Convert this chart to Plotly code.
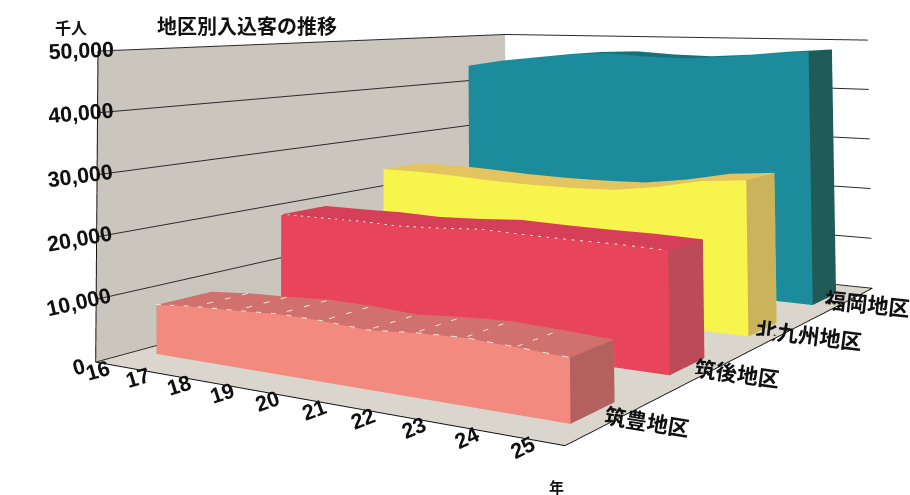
import numpy as np
import plotly.graph_objects as go

years = [16, 17, 18, 19, 20, 21, 22, 23, 24, 25]
regions = ["筑豊地区", "筑後地区", "北九州地区", "福岡地区"]
chikuho = [8000, 8600, 8900, 9300, 9200, 8800, 9400, 9700, 9400, 9000]
chikugo = [19000, 19000, 19100, 18900, 19200, 19700, 19500, 19400, 19400, 19200]
kitakyushu = [24200, 24200, 23900, 23500, 23300, 23300, 23500, 24600, 26200, 26900]
fukuoka = [43700, 45000, 45900, 46800, 47100, 46600, 46400, 46900, 47700, 48300]
series = [chikuho, chikugo, kitakyushu, fukuoka]
z_ticks = [0, 10000, 20000, 30000, 40000, 50000]

WIN_W, WIN_H = 910, 495
XR, YR, ZR = [15.5, 25.5], [-0.5, 3.5], [0, 50000]

# camera of the reference (3-D view with a narrow field of view whose
# optical centre is off the page centre)
EYE = dict(x=1.651, y=-3.13, z=0.406)
CENTER = dict(x=-0.3443, y=-0.2796, z=0.5917)
ASPECT = dict(x=1.0, y=1.651, z=0.5982)
FOCAL, PX, PY = 1596.0, 324.3, -89.23
HALF = 0.2078  # half depth of each ribbon

SH = int(round(2 * FOCAL * np.tan(np.pi / 8)))
SW = int(2 * np.ceil(max(PX, WIN_W - PX))) + 2
OFF_X = SW / 2 - PX
OFF_Y = SH / 2 - PY

palette = [
    ("#f38a7f", "#d0716e", "#b4605f"),
    ("#e8455d", "#d63f58", "#bd4a57"),
    ("#f7f44e", "#e3c45e", "#cbb35c"),
    ("#1c8b9b", "#17717a", "#1f5b57"),
]
edge_col = "#f7e3d8"

fig = go.Figure()
for si, vals in enumerate(series):
    y0, y1 = si - HALF, si + HALF
    xs, ys, zs = [], [], []
    for x, v in zip(years, vals):
        xs += [x, x, x, x]
        ys += [y0, y0, y1, y1]
        zs += [0, v, v, 0]
    I, J, K, C = [], [], [], []
    fc, tc, sc = palette[si]
    n = len(years)
    for j in range(n - 1):
        a, b = 4 * j, 4 * (j + 1)
        I += [a, a]; J += [b, b + 1]; K += [b + 1, a + 1]; C += [fc, fc]
        I += [a + 1, a + 1]; J += [b + 1, b + 2]; K += [b + 2, a + 2]; C += [tc, tc]
        I += [a + 3, a + 3]; J += [b + 3, b + 2]; K += [b + 2, a + 2]; C += [fc, fc]
    for a in (0, 4 * (n - 1)):
        I += [a, a]; J += [a + 1, a + 2]; K += [a + 2, a + 3]; C += [sc, sc]
    fig.add_trace(go.Mesh3d(
        x=xs, y=ys, z=zs, i=I, j=J, k=K, facecolor=C, flatshading=True,
        lighting=dict(ambient=1, diffuse=0, specular=0, roughness=1, fresnel=0),
        hoverinfo="skip", showscale=False, name=regions[si]))

# light seams on the two front ribbons
for si in (0, 1):
    vals = series[si]
    lx, ly, lz = [], [], []
    lx += years; ly += [si - HALF - 0.004] * len(years); lz += [v + 80 for v in vals]
    if si == 0:
        for x, v in zip(years[1:-1], vals[1:-1]):
            lx += [None, x, x]; ly += [None, si - HALF, si + HALF]; lz += [None, v + 80, v + 80]
    fig.add_trace(go.Scatter3d(x=lx, y=ly, z=lz, mode="lines",
                               line=dict(color=edge_col, width=2, dash="dash"),
                               hoverinfo="skip", showlegend=False))

num_font = dict(family="Liberation Sans Narrow, Liberation Sans", size=16,
                color="#111", weight="bold")
jp_font = dict(family="Noto Sans CJK JP", size=16, color="#111", weight="bold")
common = dict(title="", zeroline=False, showspikes=False, showline=True,
              linecolor="#111", linewidth=2)
fig.update_layout(
    width=SW, height=SH, paper_bgcolor="white", showlegend=False,
    margin=dict(l=0, r=0, t=0, b=0),
    scene=dict(
        domain=dict(x=[0, 1], y=[0, 1]),
        aspectmode="manual", aspectratio=ASPECT,
        camera=dict(eye=EYE, up=dict(x=0, y=0, z=1), center=CENTER),
        xaxis=dict(range=XR, tickvals=years, ticktext=[str(y) for y in years],
                   showgrid=False, showbackground=True, backgroundcolor="#cac6be",
                   tickfont=num_font, **common),
        yaxis=dict(range=YR, tickvals=[0, 1, 2, 3], ticktext=regions,
                   showgrid=False, showbackground=True, backgroundcolor="white",
                   tickfont=jp_font, **common),
        zaxis=dict(range=ZR, tickvals=z_ticks, tickformat=",",
                   showgrid=True, gridcolor="#2a2a2a", gridwidth=2,
                   showbackground=True, backgroundcolor="#dad6ce",
                   tickfont=num_font, **common),
    ),
)


def ann(text, x, y, size):
    fig.add_annotation(text=f"<b>{text}</b>", x=(x + OFF_X) / SW, y=1 - (y + OFF_Y) / SH,
                       xref="paper", yref="paper", xanchor="center", yanchor="middle",
                       showarrow=False,
                       font=dict(family="Noto Sans CJK JP", size=size, color="#111"))


ann("千人", 71, 27, 16)
ann("地区別入込客の推移", 247, 25, 20)
ann("年", 557, 486, 15)

post = (
    "document.documentElement.style.overflow='hidden';"
    "document.body.style.margin='0';document.body.style.overflow='hidden';"
    "var gd=document.getElementById('{plot_id}');"
    f"gd.style.position='absolute';gd.style.left='{-OFF_X:.1f}px';gd.style.top='{-OFF_Y:.1f}px';"
)
fig.write_html("out.html", post_script=post, config={"displayModeBar": False})
